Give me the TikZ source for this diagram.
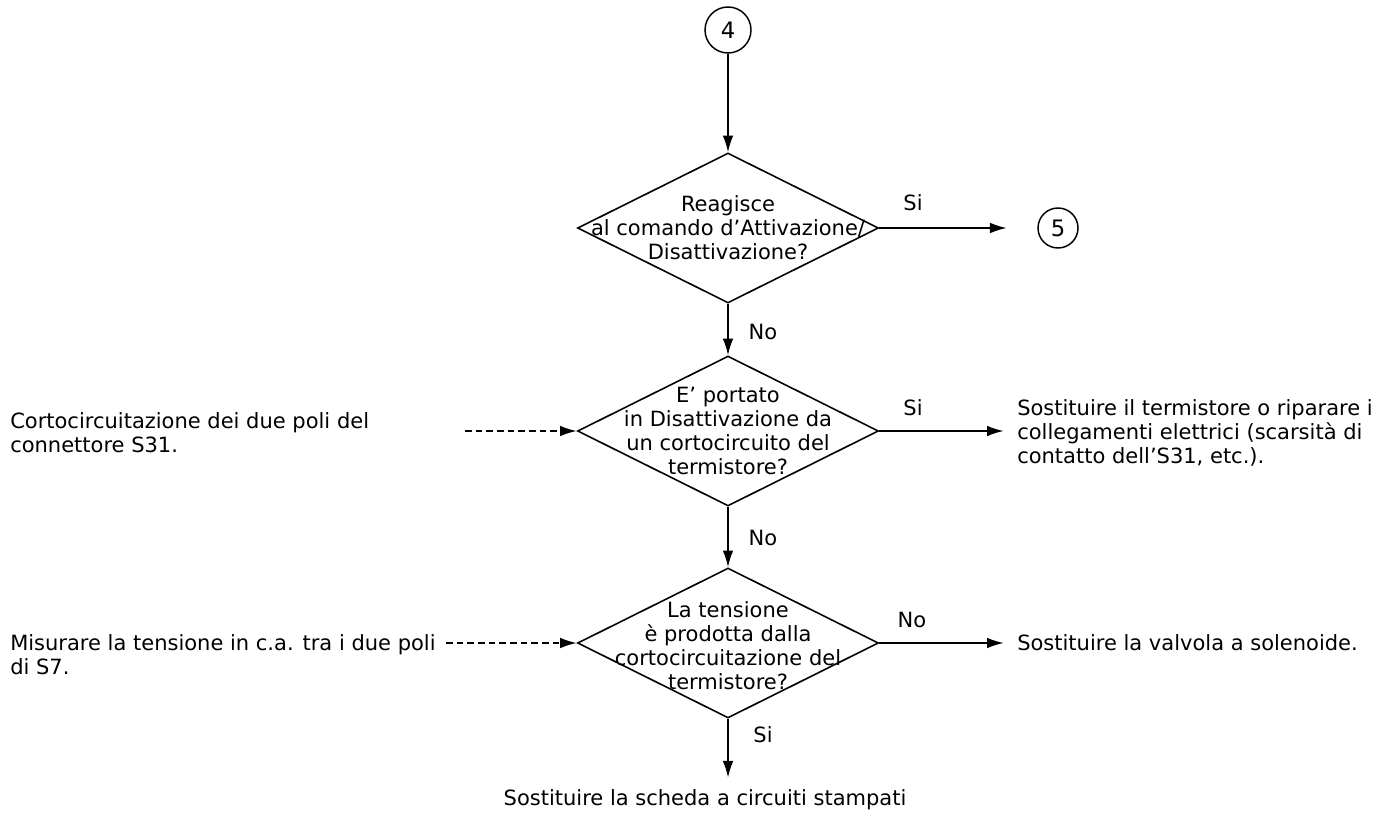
\documentclass[tikz,border=0pt]{standalone}
\usepackage{fontspec}
\setmainfont{DejaVu Sans}
\usetikzlibrary{shapes.geometric,arrows.meta}
\begin{document}
\begin{tikzpicture}[x=0.75pt,y=-0.75pt,
  font=\fontsize{15.75}{18}\selectfont,
  dec/.style={diamond, draw, line width=1.2pt, minimum width=225.75pt, minimum height=112.5pt, inner sep=0pt},
  conn/.style={circle, draw, line width=1.1pt, inner sep=0pt, font=\fontsize{17}{18}\selectfont},
  txt/.style={align=center, inner sep=0pt},
  sidetxt/.style={align=left, inner sep=0pt, anchor=west},
  arr/.style={line width=1.2pt, -{Latex[length=12.5pt,width=8pt]}},
  darr/.style={arr, dash pattern=on 5pt off 3pt},
  lbl/.style={inner sep=0pt}]
\useasboundingbox (0,0) rectangle (1394,813);

% connectors (circles)
\node[conn, minimum size=34.5pt] (c4) at (728,30) {4};
\node[conn, minimum size=30pt] (c5) at (1058,228) {5};

% decisions
\node[dec] (d1) at (728,228) {};
\node[txt] (t1) at (d1.center) {Reagisce\\al comando d’Attivazione/\\Disattivazione?};
\node[dec] (d2) at (728,431) {};
\node[txt] (t2) at (d2.center) {E’ portato\\in Disattivazione da\\un cortocircuito del\\termistore?};
\node[dec] (d3) at (728,643) {};
\node[txt] (t3) at ([yshift=-2]d3.center) {La tensione\\è prodotta dalla\\cortocircuitazione del\\termistore?};

% side texts
\node[sidetxt] (l1) at (10,433) {Cortocircuitazione dei due poli del\\connettore S31.};
\node[sidetxt] (l2) at (10,655) {Misurare la tensione in c.a. tra i due poli\\di S7.};
\node[sidetxt] (r1) at (1017,433) {Sostituire il termistore o riparare i\\collegamenti elettrici (scarsità di\\contatto dell’S31, etc.).};
\node[sidetxt] (r2) at (1017,643) {Sostituire la valvola a solenoide.};
\node[lbl] (b) at (705,800) {Sostituire la scheda a circuiti stampati};

% dashed sources
\coordinate (s1) at (465,431);
\coordinate (s2) at (446,643);

% labels
\node[lbl] (y1) at (913,203) {Si};
\node[lbl] (n1) at (763,332) {No};
\node[lbl] (y2) at (913,408) {Si};
\node[lbl] (n2) at (763,538) {No};
\node[lbl] (n3) at (912,620) {No};
\node[lbl] (y3) at (763,735) {Si};

% arrows
\draw[arr] (c4.south) -- (d1.north);
\draw[arr, shorten >=23pt] (d1.east) -- (c5.west);
\draw[arr] (d1.south) -- (d2.north);
\draw[arr] (d2.east) -- ([xshift=-10]r1.west |- d2.east);
\draw[arr] (d2.south) -- (d3.north);
\draw[arr] (d3.east) -- ([xshift=-10]r2.west);
\draw[arr, shorten >=9pt] (d3.south) -- (d3.south |- b.north);
\draw[darr] (s1) -- (d2.west);
\draw[darr] (s2) -- (d3.west);
\end{tikzpicture}
\end{document}
